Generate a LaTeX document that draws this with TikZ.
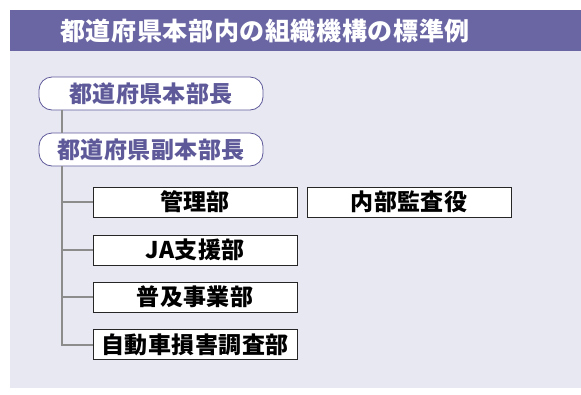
\documentclass[tikz,border=0pt]{standalone}
\usepackage{fontspec}
\newfontfamily\jp[LetterSpace=2]{Noto Sans CJK JP}
\newfontfamily\jpt[LetterSpace=2.5]{Noto Sans CJK JP}
\definecolor{titlebar}{HTML}{6A66A4}
\definecolor{panel}{HTML}{E8E8F3}
\definecolor{headtext}{HTML}{5E5A9A}
\definecolor{linegray}{HTML}{8C8C8C}
\begin{document}
\begin{tikzpicture}[x=1pt,y=-1pt,
  head/.style={draw=headtext, line width=0.8pt, fill=white, rounded corners=13pt,
    minimum width=224pt, minimum height=33pt, inner sep=0pt,
    font=\jp\bfseries\fontsize{23}{23}\selectfont, text=headtext},
  dept/.style={draw=black!85, line width=1pt, fill=white,
    minimum width=204pt, minimum height=30pt, inner sep=0pt,
    font=\jp\bfseries\fontsize{23}{23}\selectfont, text=black},
  conn/.style={draw=linegray, line width=2pt}]
\useasboundingbox (0,0) rectangle (581,394);
\fill[panel] (10,10) rectangle (581,388);
\fill[titlebar] (10,10) rectangle (581,51);
\node[text=white, font=\jpt\bfseries\fontsize{25}{25}\selectfont] (title) at (265,31) {都道府県本部内の組織機構の標準例};
\node[head] (h1) at (151,93.5) {都道府県本部長};
\node[head] (h2) at (151,149.5) {都道府県副本部長};
\node[dept] (d1) at (195,202) {管理部};
\node[dept] (d5) at (409,202) {内部監査役};
\node[dept] (d2) at (195,250) {JA支援部};
\node[dept] (d3) at (195,297) {普及事業部};
\node[dept] (d4) at (195,344.5) {自動車損害調査部};
\coordinate (top) at (62,0);
\draw[conn] (h1.south -| top) -- (h2.north -| top);
\draw[conn] (h2.south -| top) |- (d4.west);
\draw[conn] (d1.west -| top) -- (d1.west);
\draw[conn] (d2.west -| top) -- (d2.west);
\draw[conn] (d3.west -| top) -- (d3.west);
\end{tikzpicture}
\end{document}
